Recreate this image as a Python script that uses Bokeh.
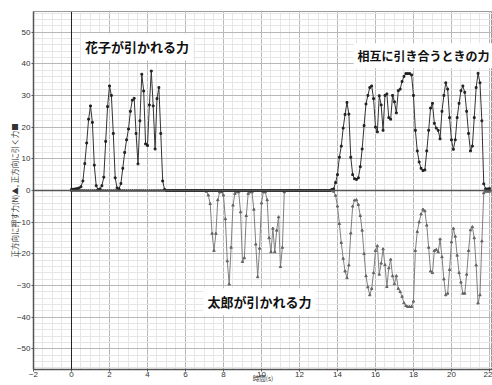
from bokeh.plotting import figure
from bokeh.models import Span, Label, SingleIntervalTicker, Range1d, ColumnDataSource
from bokeh.embed import file_html
from bokeh.resources import INLINE

# sampling grid (10 Hz, 0.0 .. 22.0 s)
time_s = [round(i * 0.1, 1) for i in range(221)]

# positive series: pulling force (■)
pull_hanako = [0.3, 0.4, 0.5, 0.6, 0.8, 1.2, 3.0, 8.5, 15.0, 22.5,
               26.7, 21.5, 8.0, 1.5, 0.3, 0.5, 1.5, 4.2, 15.5, 26.5,
               33.0, 30.0, 18.0, 4.0, 0.8, 0.5, 2.2, 7.0, 12.0, 16.0,
               19.4, 25.0, 28.5, 29.1, 18.0, 8.4, 22.0, 36.7, 31.4, 14.7,
               14.2, 27.0, 37.7, 26.7, 13.1, 29.0, 32.5, 18.0, 3.0, 0.3,
               0.0]                                  # 0.0 .. 5.0
pull_idle = [0.0, 0.0, 0.0, 0.0, 0.0, 0.0, 0.0, 0.0, 0.0, 0.0,
             0.0, 0.0, 0.0, 0.0, 0.0, 0.0, 0.0, 0.0, 0.0, 0.0,
             0.0, 0.0, 0.0, 0.0, 0.0, 0.0, 0.0, 0.0, 0.0, 0.0,
             0.0, 0.0, 0.0, 0.0, 0.0, 0.0, 0.0, 0.0, 0.0, 0.0,
             0.0, 0.0, 0.0, 0.0, 0.0, 0.0, 0.0, 0.0, 0.0, 0.0,
             0.0, 0.0, 0.0, 0.0, 0.0, 0.0, 0.0, 0.0, 0.0, 0.0,
             0.0, 0.0, 0.0, 0.0, 0.0, 0.0, 0.0, 0.0, 0.0, 0.0,
             0.0, 0.0, 0.0, 0.0, 0.0, 0.0, 0.0, 0.0, 0.0, 0.0,
             0.0, 0.0, 0.0, 0.0, 0.0, 0.0]           # 5.1 .. 13.6
pull_mutual = [0.3, 0.5, 2.5, 5.0, 10.5, 14.0, 19.7, 24.0, 27.8, 24.1,
               10.5, 5.0, 3.7, 3.5, 4.0, 7.5, 13.1, 20.5, 27.3, 30.0,
               32.5, 33.0, 29.0, 20.0, 18.5, 29.9, 27.0, 19.0, 30.0, 30.5,
               23.0, 22.5, 30.0, 28.0, 24.5, 31.5, 32.0, 34.4, 36.0, 36.9,
               36.9, 36.9, 36.5, 30.0, 19.0, 12.5, 9.0, 7.0, 6.3, 6.5,
               12.5, 19.0, 26.0, 27.5, 21.2, 19.7, 19.0, 16.3, 25.0, 30.0,
               34.0, 32.0, 23.0, 16.0, 13.0, 16.0, 23.0, 27.5, 31.5, 33.0,
               31.0, 25.0, 18.0, 12.5, 14.0, 23.0, 32.5, 37.0, 34.0, 22.0,
               2.1, 0.5, 0.5, 0.6]                   # 13.7 .. 22.0

# negative series: pushing force (▲)
push_idle_a = [0.0, 0.0, 0.0, 0.0, 0.0, 0.0, 0.0, 0.0, 0.0, 0.0,
               0.0, 0.0, 0.0, 0.0, 0.0, 0.0, 0.0, 0.0, 0.0, 0.0,
               0.0, 0.0, 0.0, 0.0, 0.0, 0.0, 0.0, 0.0, 0.0, 0.0,
               0.0, 0.0, 0.0, 0.0, 0.0, 0.0, 0.0, 0.0, 0.0, 0.0,
               0.0, 0.0, 0.0, 0.0, 0.0, 0.0, 0.0, 0.0, 0.0, 0.0,
               0.0, 0.0, 0.0, 0.0, 0.0, 0.0, 0.0, 0.0, 0.0, 0.0,
               0.0, 0.0, 0.0, 0.0, 0.0, 0.0, 0.0, 0.0, 0.0, 0.0]   # 0.0 .. 6.9
push_taro = [0.0, -0.3, -1.5, -4.2, -13.6, -19.0, -13.6, -3.0, -0.5, -0.5,
             -1.5, -9.0, -22.3, -29.6, -18.0, -4.7, -1.0, -0.5, -0.5, -6.8,
             -22.5, -21.3, -8.0, -1.0, -0.5, -0.5, -6.0, -17.0, -27.3, -18.3,
             -4.0, -0.5, -0.5, -3.0, -15.0, -19.4, -12.0, -19.4, -12.6, -8.4,
             -24.1, -18.0, -0.5, 0.0]                               # 7.0 .. 11.3
push_idle_b = [0.0, 0.0, 0.0, 0.0, 0.0, 0.0, 0.0, 0.0, 0.0, 0.0,
               0.0, 0.0, 0.0, 0.0, 0.0, 0.0, 0.0, 0.0, 0.0, 0.0,
               0.0, 0.0, 0.0]                                      # 11.4 .. 13.6
push_mutual = [0.0, -0.3, -1.6, -5.0, -10.5, -16.5, -21.5, -25.5, -27.6, -23.6,
               -13.5, -5.0, -3.1, -3.0, -4.5, -8.0, -12.6, -20.0, -27.0, -30.5,
               -33.0, -31.0, -26.0, -19.0, -17.5, -26.5, -23.0, -18.5, -23.5, -30.4,
               -24.5, -21.8, -27.0, -29.5, -27.0, -31.0, -32.0, -33.5, -35.5, -36.4,
               -36.7, -36.7, -36.7, -35.0, -19.0, -13.0, -10.0, -7.5, -6.0, -6.5,
               -11.0, -18.0, -25.5, -26.0, -19.0, -18.7, -19.4, -15.4, -21.0, -28.0,
               -33.0, -32.5, -25.0, -16.3, -12.0, -14.5, -20.5, -26.0, -29.0, -32.5,
               -32.5, -26.5, -19.0, -12.5, -11.5, -15.0, -23.6, -35.6, -33.0, -16.0,
               -0.8, -0.3, -0.3, -0.3]                              # 13.7 .. 22.0

pull_force = pull_hanako + pull_idle + pull_mutual
push_force = push_idle_a + push_taro + push_idle_b + push_mutual

x_ticks_interval = 2
y_ticks_interval = 10

src = ColumnDataSource(dict(t=time_s, pull=pull_force, push=push_force))

JP = "Noto Sans CJK JP"
NUM = "Liberation Sans"

p = figure(width=492, height=385,
           x_range=Range1d(-2, 22.16), y_range=Range1d(-56.5, 56.5),
           output_backend="svg", toolbar_location=None,
           min_border_left=33, min_border_right=0,
           min_border_top=11, min_border_bottom=16,
           background_fill_color="white", border_fill_color="white")

p.outline_line_color = "#999999"

p.xaxis.ticker = SingleIntervalTicker(interval=x_ticks_interval, num_minor_ticks=4)
p.yaxis.ticker = SingleIntervalTicker(interval=y_ticks_interval, num_minor_ticks=5)
p.xgrid.ticker = p.xaxis.ticker
p.ygrid.ticker = p.yaxis.ticker

for g in (p.xgrid, p.ygrid):
    g.grid_line_color = "#b8b8b8"
    g.grid_line_width = 1
    g.minor_grid_line_color = "#e6e6e6"
    g.minor_grid_line_width = 1

for ax in (p.xaxis, p.yaxis):
    ax.axis_line_color = "#555555"
    ax.axis_line_width = 1.5
    ax.major_tick_line_color = "#555555"
    ax.major_tick_out = 2
    ax.major_tick_in = 0
    ax.minor_tick_out = 0
    ax.minor_tick_in = 0
    ax.major_label_text_font = NUM
    ax.major_label_text_font_size = "8px"
    ax.major_label_text_color = "#333333"
    ax.major_label_standoff = 1
    ax.axis_label_text_font = JP
    ax.axis_label_text_font_style = "normal"
    ax.axis_label_text_color = "#333333"

p.xaxis.major_label_standoff = 0

p.yaxis.axis_label = "正方向に押す力(N)▲, 正方向に引く力■"
p.yaxis.axis_label_text_font_size = "7.5px"
p.yaxis.axis_label_standoff = -6

p.xaxis.axis_label = "時間(s)"
p.xaxis.axis_label_text_font_size = "6.5px"
p.xaxis.axis_label_standoff = -7

# zero lines
p.add_layout(Span(location=0, dimension="height", line_color="#222222", line_width=1))
p.add_layout(Span(location=0, dimension="width", line_color="#555555", line_width=1.5))

# series
p.line("t", "push", source=src, line_color="#808080", line_width=1)
p.scatter("t", "push", source=src, marker="triangle", size=2.5,
          fill_color="#666666", line_color="#666666")
p.line("t", "pull", source=src, line_color="#333333", line_width=1)
p.scatter("t", "pull", source=src, marker="square", size=1.8,
          fill_color="#222222", line_color="#222222")

# annotations
for tx, ty, txt, fs in [(0.5, 45.3, "花子が引かれる力", "13px"),
                        (14.85, 42.5, "相互に引き合うときの力", "12px"),
                        (6.95, -35.1, "太郎が引かれる力", "13px")]:
    p.add_layout(Label(x=tx, y=ty, text=txt, text_font=JP,
                       text_font_size=fs, text_font_style="bold",
                       text_color="#111111", text_baseline="middle",
                       background_fill_color="white", background_fill_alpha=1.0,
                       padding=4))

open("out.html", "w").write(file_html(p, INLINE))
